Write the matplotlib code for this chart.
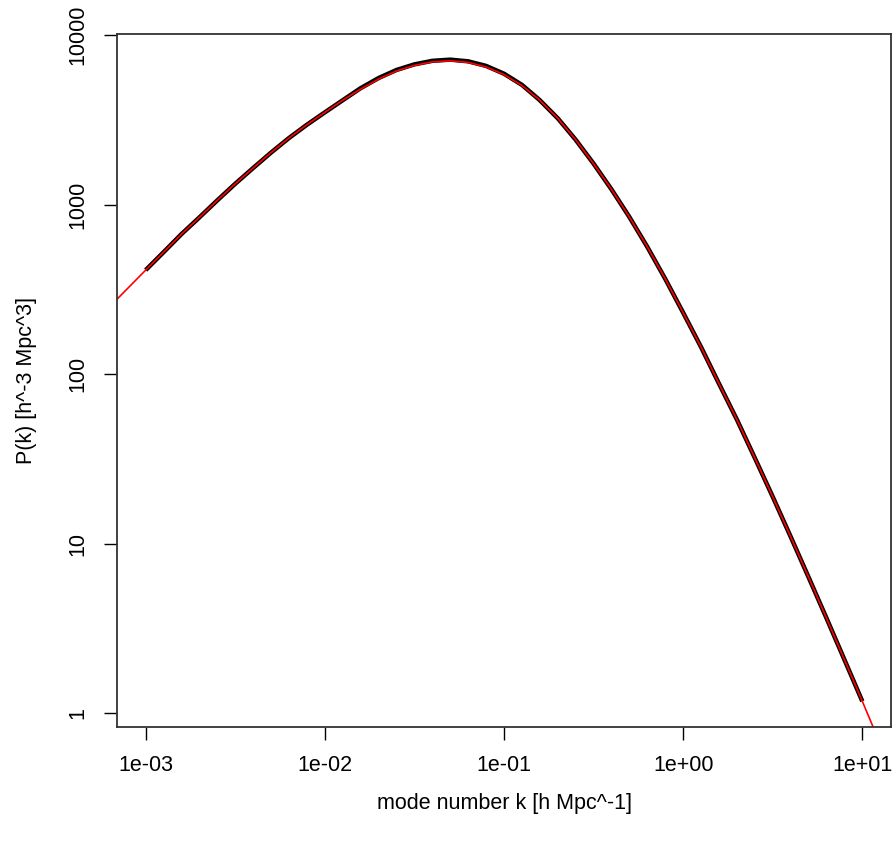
import matplotlib
matplotlib.use("Agg")
import matplotlib.pyplot as plt
import matplotlib.ticker as mticker
import numpy as np

plt.rcParams['font.family'] = ['Liberation Sans', 'DejaVu Sans']

k_data = [0.001, 0.00126, 0.00158, 0.002, 0.00251, 0.00316, 0.00398, 0.00501,
          0.00631, 0.00794, 0.01, 0.0126, 0.0158, 0.02, 0.0251, 0.0316,
          0.0398, 0.0501, 0.0631, 0.0794, 0.1, 0.126, 0.158, 0.2, 0.251,
          0.316, 0.398, 0.501, 0.631, 0.794, 1.0, 1.26, 1.58, 2.0, 2.51,
          3.16, 3.98, 5.01, 6.31, 7.94, 10.0]
p_data = [412, 526, 670, 845, 1062, 1330, 1648, 2032,
          2477, 2965, 3508, 4140, 4864, 5598, 6237, 6730,
          7063, 7178, 7015, 6592, 5929, 5093, 4150, 3228, 2421,
          1750, 1233, 847, 564, 366, 231, 144.5, 88.7, 53.8, 32.2,
          19.0, 11.04, 6.37, 3.65, 2.08, 1.18]

# fitted model (red), runs past the data on both ends
k_fit = [0.00063] + k_data + [12.6]
p_fit = [251, 412, 526, 670, 845, 1062, 1330, 1648, 2032,
         2477, 2965, 3508, 4140, 4800, 5520, 6150, 6640,
         6960, 7070, 6910, 6500, 5860, 5050, 4150, 3228, 2421,
         1750, 1233, 847, 564, 366, 231, 144.5, 88.7, 53.8, 32.2,
         19.0, 11.04, 6.37, 3.65, 2.08, 1.18, 0.66]

x_ticks = [1e-3, 1e-2, 1e-1, 1e0, 1e1]
x_labels = ["1e-03", "1e-02", "1e-01", "1e+00", "1e+01"]
y_ticks = [1, 10, 100, 1000, 10000]
y_labels = ["1", "10", "100", "1000", "10000"]

fig = plt.figure(figsize=(8.96, 8.41), dpi=100)
ax = fig.add_axes([0.1306, 0.1356, 0.8638, 0.824])

ax.plot(k_data, p_data, color="black", lw=3.2, solid_capstyle="butt")
ax.set_xscale("log")
ax.set_yscale("log")

# R style 4% padding around the data range
lx = np.log10(k_data)
ly = np.log10(p_data)
dx = 0.04 * (lx.max() - lx.min())
dy = 0.04 * (ly.max() - ly.min())
ax.set_xlim(10 ** (lx.min() - dx), 10 ** (lx.max() + dx))
ax.set_ylim(10 ** (ly.min() - dy), 10 ** (ly.max() + dy))

ax.plot(k_fit, p_fit, color="red", lw=1.2, scalex=False, scaley=False)

ax.xaxis.set_major_locator(mticker.FixedLocator(x_ticks))
ax.xaxis.set_major_formatter(mticker.FixedFormatter(x_labels))
ax.yaxis.set_major_locator(mticker.FixedLocator(y_ticks))
ax.yaxis.set_major_formatter(mticker.FixedFormatter(y_labels))
ax.xaxis.set_minor_locator(mticker.NullLocator())
ax.yaxis.set_minor_locator(mticker.NullLocator())

ax.tick_params(direction="out", length=9.5, width=1, labelsize=15.5, pad=11)
for lab in ax.get_yticklabels():
    lab.set_rotation(90)
    lab.set_va("center")
for sp in ax.spines.values():
    sp.set_linewidth(1.3)
    sp.set_color("#333333")

ax.set_xlabel("mode number k [h Mpc^-1]", fontsize=15.5, labelpad=12)
ax.set_ylabel("P(k) [h^-3 Mpc^3]", fontsize=15.5, labelpad=22)

fig.savefig("out.png", dpi=100)
